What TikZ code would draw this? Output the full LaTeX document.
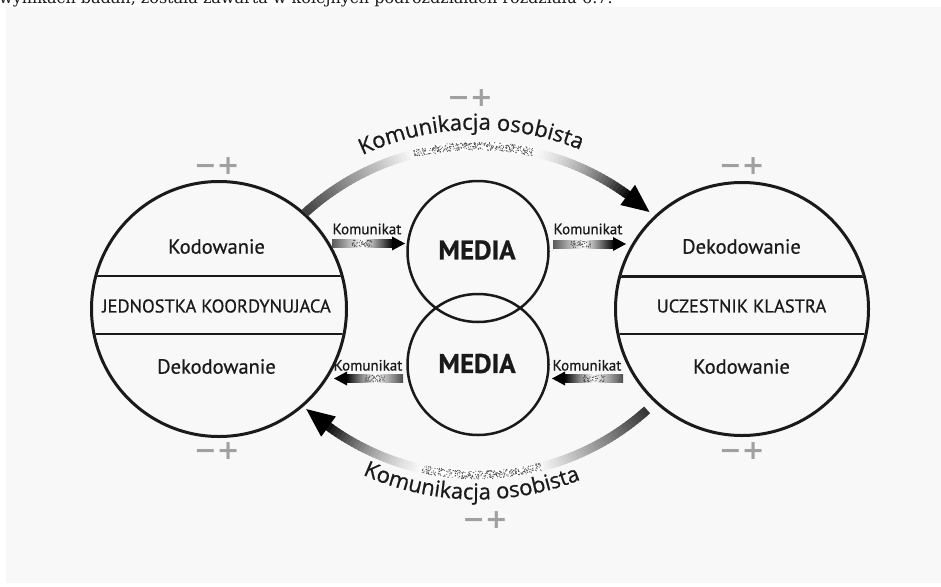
\documentclass[tikz,border=0pt]{standalone}
\usepackage{fontspec}
\setmainfont{PT Sans}[FakeBold=0.6]
\newfontfamily\labelfont{PT Sans}[FakeBold=0.6]
\newfontfamily\arcfont{Open Sans}[FakeBold=0.7]
\newfontfamily\signfont{DejaVu Sans}
\newfontfamily\bodyserif{DejaVu Serif}
\usetikzlibrary{calc,decorations.text}

\definecolor{panel}{HTML}{F8F8F8}
\definecolor{ink}{HTML}{1A1A1A}
\definecolor{signgray}{HTML}{A0A0A0}
\definecolor{speckgray}{HTML}{4A4A4A}

% random stipple inside a small rectangle: centre x, centre y, half width, half height, count
\newcommand{\dotcloud}[5]{%
  \foreach \k in {1,...,#5}{%
    \pgfmathsetmacro\sx{#1+#3*(2*rnd-1)}%
    \pgfmathsetmacro\sy{#2+#4*(2*rnd-1)}%
    \fill[speckgray] (\sx,\sy) circle[radius=0.55];
  }%
}

\begin{document}
\begin{tikzpicture}[x=1pt,y=-1pt,
  party/.style={circle, draw=ink, line width=3, inner sep=0},
  medium/.style={circle, draw=ink, line width=2.5, minimum size=141, inner sep=0},
  chord/.style={draw=ink, line width=2.5},
  lbl/.style={font=\labelfont\fontsize{20.5}{24}\selectfont, text=ink, inner sep=0},
  caps/.style={font=\labelfont\fontsize{18.5}{22}\selectfont, text=ink, inner sep=0},
  mediatext/.style={font=\bfseries\fontsize{27}{30}\selectfont, text=ink, inner sep=0},
  msg/.style={font=\labelfont\fontsize{15}{17}\selectfont, text=ink, inner sep=0},
  sign/.style={font=\signfont\bfseries\fontsize{27}{30}\selectfont, text=signgray, inner sep=0},
  arctext/.style={decorate, decoration={text along path, text align=center,
      text={|\arcfont\fontsize{22}{26}\selectfont\color{ink}|Komunikacja osobista}}},
]
\useasboundingbox (0,0) rectangle (941,586);
\fill[white] (0,0) rectangle (941,586);
\fill[panel] (6,7) rectangle (941,583);

% last line of the preceding paragraph, cut by the page edge
\begin{scope}
  \clip (0,0) rectangle (941,586);
  \node[anchor=base west, inner sep=0, font=\bodyserif\fontsize{16}{19}\selectfont, text=ink] (prevline) at (-1,4)
    {wynikach badań, została zawarta w kolejnych podrozdziałach rozdziału 6.7.};
\end{scope}

% ---------- the two parties ----------
\node[party, minimum size=255] (jk) at (219,309) {};
\node[party, minimum size=253] (uk) at (742,309) {};
\begin{scope}
  \clip (jk.center) circle[radius=126];
  \draw[chord] ($(jk.center)+(-130,-33)$) -- ++(260,0);
  \draw[chord] ($(jk.center)+(-130,25)$) -- ++(260,0);
\end{scope}
\begin{scope}
  \clip (uk.center) circle[radius=125];
  \draw[chord] ($(uk.center)+(-130,-32.5)$) -- ++(260,0);
  \draw[chord] ($(uk.center)+(-130,25)$) -- ++(260,0);
\end{scope}

\node[lbl]  (jkcod)  at (216.5,246.5) {Kodowanie};
\node[caps] (jkname) at (216.5,306)   {JEDNOSTKA KOORDYNUJACA};
\node[lbl]  (jkdec)  at (216.5,366.5) {Dekodowanie};
\node[lbl]  (ukdec)  at (741.5,246.5) {Dekodowanie};
\node[caps] (ukname) at (741.5,306)   {UCZESTNIK KLASTRA};
\node[lbl]  (ukcod)  at (741.5,366.5) {Kodowanie};

% ---------- media ----------
\node[medium] (m1) at (478,251.5) {};
\node[medium] (m2) at (478,364.5) {};
\node[mediatext] (m1t) at (477,250) {MEDIA};
\node[mediatext] (m2t) at (477,363.5) {MEDIA};

% ---------- message arrows ----------
\coordinate (k1s) at (332,243.5);   \coordinate (k1e) at (405,243.5);
\coordinate (k2s) at (553,244);     \coordinate (k2e) at (626,244);
\coordinate (k3s) at (403,378.5);   \coordinate (k3e) at (334,378.5);
\coordinate (k4s) at (623,378.5);   \coordinate (k4e) at (552,378.5);

\pgfmathsetseed{4}
% rightwards
\shade[left color=black!65, right color=black, middle color=white]
  ($(k1s)+(0,-4)$) rectangle ($(k1e)+(-12,4)$);
\fill[black] ($(k1e)+(-13,-7)$) -- (k1e) -- ($(k1e)+(-13,7)$) -- cycle;
\dotcloud{361}{243.5}{11}{3.3}{55}
\shade[left color=black!65, right color=black, middle color=white]
  ($(k2s)+(0,-4)$) rectangle ($(k2e)+(-12,4)$);
\fill[black] ($(k2e)+(-13,-7)$) -- (k2e) -- ($(k2e)+(-13,7)$) -- cycle;
\dotcloud{582}{244}{11}{3.3}{55}
% leftwards
\shade[left color=black, right color=black!70, middle color=white]
  ($(k3e)+(12,-4)$) rectangle ($(k3s)+(0,4)$);
\fill[black] ($(k3e)+(13,-7)$) -- (k3e) -- ($(k3e)+(13,7)$) -- cycle;
\dotcloud{374}{378.5}{11}{3.3}{55}
\shade[left color=black, right color=black!70, middle color=white]
  ($(k4e)+(12,-4)$) rectangle ($(k4s)+(0,4)$);
\fill[black] ($(k4e)+(13,-7)$) -- (k4e) -- ($(k4e)+(13,7)$) -- cycle;
\dotcloud{594}{378.5}{11}{3.3}{55}

\node[msg] (k1t) at (367,229)   {Komunikat};
\node[msg] (k2t) at (588,229)   {Komunikat};
\node[msg] (k3t) at (368,365.3) {Komunikat};
\node[msg] (k4t) at (587,365.3) {Komunikat};

% ---------- personal communication, upper arc (left to right) ----------
\coordinate (C1) at (477.5,401.6);
\foreach \i in {0,...,89}{
  \pgfmathsetmacro\aa{-132.5+78.5*\i/90}
  \pgfmathsetmacro\ab{(\aa)+78.5*1.3/90}
  \pgfmathsetmacro\am{(\aa)+78.5*0.5/90}
  \pgfmathsetmacro\ta{max(0,(-104-(\am))/28.5)}
  \pgfmathsetmacro\tb{max(0,((\am)+78)/24)}
  \pgfmathsetmacro\g{min(100,75*\ta+96*(0.4*\tb+0.6*\tb*\tb))}
  \draw[line width=9, black!\g] ($(C1)+(\aa:255.6)$) arc[start angle=\aa, end angle=\ab, radius=255.6];
}
\fill[black] ($(C1)+(-54:243)$) -- ($(C1)+(-47.8:256)$) -- ($(C1)+(-54:268)$) -- cycle;
\foreach \k in {1,...,380}{
  \pgfmathsetmacro\da{-104.5+27*rnd}
  \pgfmathsetmacro\dr{255.6+8*(rnd-0.5)}
  \fill[speckgray] ($(C1)+(\da:\dr)$) circle[radius=0.55];
}
\path[arctext] ($(C1)+(-121.4:272)$) arc[start angle=-121.4, end angle=-61.4, radius=272];

% ---------- personal communication, lower arc (right to left) ----------
\coordinate (C2) at (477.5,221.5);
\foreach \i in {0,...,89}{
  \pgfmathsetmacro\aa{48+78*\i/90}
  \pgfmathsetmacro\ab{(\aa)+78*1.3/90}
  \pgfmathsetmacro\am{(\aa)+78*0.5/90}
  \pgfmathsetmacro\ta{max(0,(76.5-(\am))/28.5)}
  \pgfmathsetmacro\tb{max(0,((\am)-101.5)/24.5)}
  \pgfmathsetmacro\g{min(100,80*\ta+96*(0.4*\tb+0.6*\tb*\tb))}
  \draw[line width=9, black!\g] ($(C2)+(\aa:253.5)$) arc[start angle=\aa, end angle=\ab, radius=253.5];
}
\fill[black] ($(C2)+(126:241)$) -- ($(C2)+(132.4:254)$) -- ($(C2)+(126:266)$) -- cycle;
\foreach \k in {1,...,380}{
  \pgfmathsetmacro\da{75.5+27*rnd}
  \pgfmathsetmacro\dr{253.5+8*(rnd-0.5)}
  \fill[speckgray] ($(C2)+(\da:\dr)$) circle[radius=0.55];
}
\path[arctext] ($(C2)+(121.3:278)$) arc[start angle=121.3, end angle=61.3, radius=278];

% ---------- minus / plus marks ----------
\node[sign] (s1) at (470,98)    {−+};
\node[sign] (s2) at (216.8,166) {−+};
\node[sign] (s3) at (216.8,451) {−+};
\node[sign] (s4) at (741.8,166) {−+};
\node[sign] (s5) at (741.8,451.5) {−+};
\node[sign] (s6) at (485,520)   {−+};
\end{tikzpicture}
\end{document}
